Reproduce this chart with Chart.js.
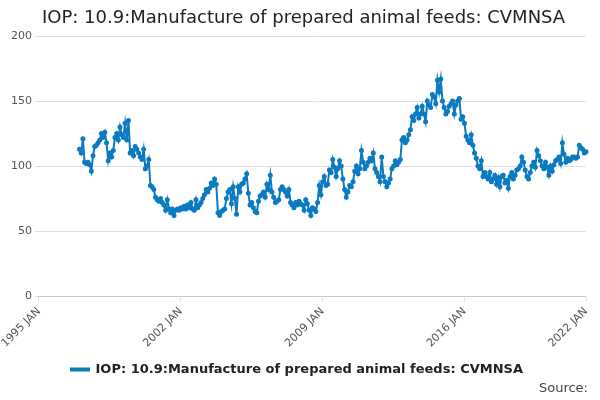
<!DOCTYPE html>
<html><head><meta charset="utf-8">
<script src="https://cdn.jsdelivr.net/npm/chart.js@4"></script>
<style>html,body{margin:0;padding:0;background:#fff;font-family:"DejaVu Sans",sans-serif}
#wrap{position:relative;width:600px;height:400px}
#t{position:absolute;left:42px;top:6px;font-size:18px;color:#222}
#s{position:absolute;right:12px;top:380px;font-size:13px;color:#444}</style></head>
<body><div id="wrap"><div id="t">IOP: 10.9:Manufacture of prepared animal feeds: CVMNSA</div>
<canvas id="c" width="600" height="400"></canvas><div id="s">Source:</div></div>
<script>
const startYear = 1995, endYear = 2022;
const dataStartYear = 1997;
const values = [
113,110,121,103,102,103,101,96,108,115,116,118,
120,125,122,126,118,104,110,107,112,122,125,120,
130,124,122,133,120,135,110,112,108,115,113,110,
107,105,113,98,100,105,85,84,82,76,74,73,
75,72,70,66,74,67,64,67,62,66,67,66,
68,67,69,67,70,68,72,67,66,74,68,70,
72,75,78,82,80,83,87,85,90,86,64,62,
65,66,67,75,80,82,71,84,75,63,84,80,
86,87,90,94,79,70,72,68,65,64,73,77,
78,80,76,86,82,93,80,76,72,73,74,82,
84,82,80,77,82,72,70,68,72,70,73,71,
70,66,74,71,66,62,68,67,65,72,85,78,
88,92,85,86,97,95,105,99,92,98,104,100,
90,82,76,80,85,84,88,96,100,94,98,112,
103,98,100,103,106,104,110,98,95,92,88,107,
92,88,84,87,90,98,100,104,101,103,105,120,
122,118,120,124,128,138,135,140,145,137,140,146,
140,134,150,147,145,155,153,148,166,157,167,150,
145,140,142,146,148,150,140,147,150,152,136,138,
133,123,120,118,124,116,110,106,100,98,104,92,
95,92,90,95,88,90,93,86,91,84,92,93,
87,89,83,92,95,90,93,97,98,100,107,103,
97,92,90,95,100,103,99,112,108,104,100,98,
103,99,93,100,96,101,104,105,107,102,118,109,
103,106,104,105,107,107,106,107,116,114,113,110,
111];
const months=['JAN','FEB','MAR','APR','MAY','JUN','JUL','AUG','SEP','OCT','NOV','DEC'];
const labels=[];
for(let y=startYear;y<=endYear;y++)for(let m=0;m<12;m++){if(y===endYear&&m>0)break;labels.push(y+' '+months[m]);}
const lead=(dataStartYear-startYear)*12;
const series=Array(lead).fill(null).concat(values);
const tickYears=['1995 JAN','2002 JAN','2009 JAN','2016 JAN','2022 JAN'];
new Chart(document.getElementById('c'),{type:'line',
data:{labels,datasets:[{label:'IOP: 10.9:Manufacture of prepared animal feeds: CVMNSA',data:series,
borderColor:'#0b7bc1',backgroundColor:'#0b7bc1',borderWidth:2,pointRadius:1.5,pointHoverRadius:2,tension:0}]},
options:{responsive:false,animation:false,
layout:{padding:{left:8,right:14,top:36,bottom:14}},
plugins:{legend:{position:'bottom',labels:{boxWidth:18,boxHeight:2,font:{size:13,weight:'bold',family:'DejaVu Sans'},color:'#222'}},tooltip:{enabled:false}},
scales:{x:{grid:{display:true,drawOnChartArea:false,tickLength:6},
ticks:{autoSkip:false,maxRotation:45,minRotation:45,color:'#555',font:{size:11,family:'DejaVu Sans'},
callback:function(v,i){const l=this.getLabelForValue(v);return tickYears.includes(l)?l:null;}}},
y:{min:0,max:200,border:{display:false},ticks:{stepSize:50,color:'#555',font:{size:11,family:'DejaVu Sans'}},grid:{color:'#e0e0e0',tickLength:4}}}}});
</script></body></html>
